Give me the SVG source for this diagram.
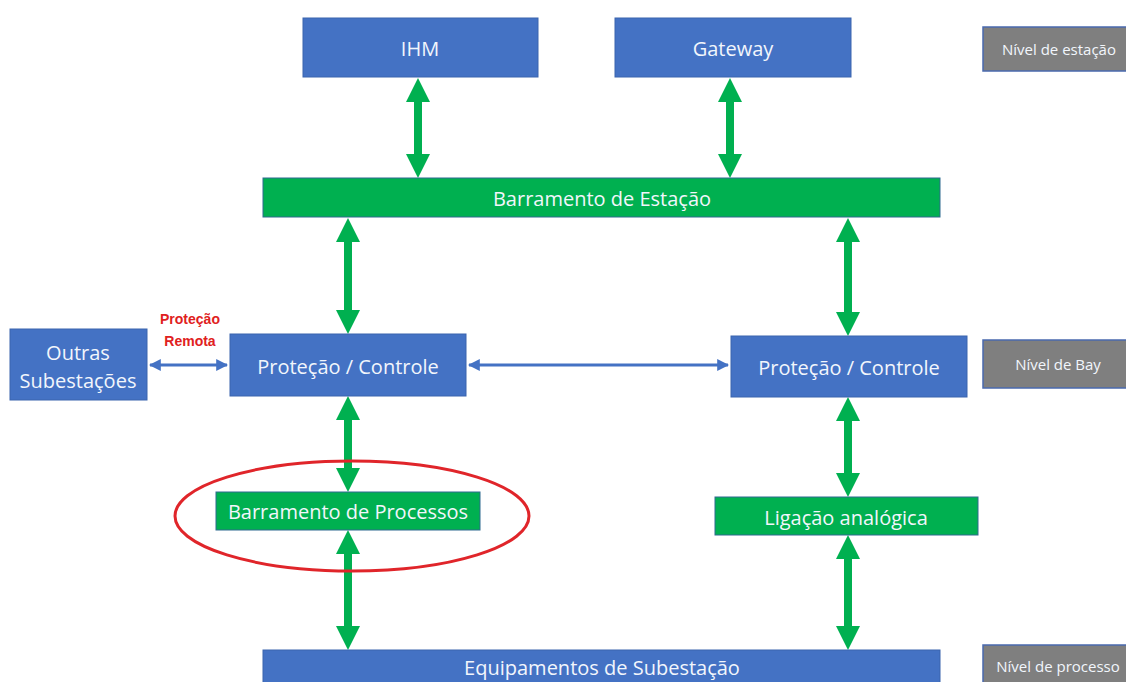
<svg xmlns="http://www.w3.org/2000/svg" width="1126" height="682" viewBox="0 0 1126 682">
<style>
.blue{fill:#4472C4;stroke:#3A64AE;stroke-width:1}
.green{fill:#00B050;stroke:#2F6B8F;stroke-width:1}
.gray{fill:#7F7F7F;stroke:#4A6AAE;stroke-width:1.5}
.t{font-family:"Open Sans","Liberation Sans",sans-serif;fill:#F2F6FC;text-anchor:middle;dominant-baseline:central}
.big{font-size:20px}
.mid{font-size:20px}
.sm{font-size:15px}
.arr{fill:#00B050}
.thin{stroke:#4472C4;stroke-width:3;fill:none}
.red{font-family:"Liberation Sans",sans-serif;font-weight:bold;font-size:14px;fill:#E02020;text-anchor:middle}
</style>
<defs>
<marker id="ah" viewBox="0 0 10 10" refX="9" refY="5" markerWidth="4" markerHeight="4" orient="auto-start-reverse">
<path d="M0,0 L10,5 L0,10 Z" fill="#4472C4"/>
</marker>
</defs>
<rect width="1126" height="682" fill="#FFFFFF"/>
<g id="connectors">
<polygon class="arr" points="418,78 430,102 422,102 422,154 430,154 418,178 406,154 414,154 414,102 406,102"/>
<polygon class="arr" points="730,78 742,102 734,102 734,154 742,154 730,178 718,154 726,154 726,102 718,102"/>
<polygon class="arr" points="348,218 360,242 352,242 352,310 360,310 348,334 336,310 344,310 344,242 336,242"/>
<polygon class="arr" points="848,218 860,242 852,242 852,312 860,312 848,336 836,312 844,312 844,242 836,242"/>
<polygon class="arr" points="348,396 360,420 352,420 352,468 360,468 348,492 336,468 344,468 344,420 336,420"/>
<polygon class="arr" points="348,530 360,554 352,554 352,626 360,626 348,650 336,626 344,626 344,554 336,554"/>
<polygon class="arr" points="848,397 860,421 852,421 852,473 860,473 848,497 836,473 844,473 844,421 836,421"/>
<polygon class="arr" points="848,535 860,559 852,559 852,626 860,626 848,650 836,626 844,626 844,559 836,559"/>
<line class="thin" x1="150" y1="365" x2="227" y2="365" marker-start="url(#ah)" marker-end="url(#ah)"/>
<line class="thin" x1="469" y1="365" x2="728" y2="365" marker-start="url(#ah)" marker-end="url(#ah)"/>
<text class="red" x="190" y="324">Proteção</text>
<text class="red" x="190" y="346">Remota</text>
<ellipse cx="352" cy="516" rx="177" ry="55" fill="none" stroke="#E0252A" stroke-width="3"/>
</g>
<g id="ihm"><rect class="blue" x="303" y="18" width="235" height="59"/><text class="t big" x="420" y="48">IHM</text></g>
<g id="gateway"><rect class="blue" x="615" y="18" width="236" height="59"/><text class="t big" x="733" y="48">Gateway</text></g>
<g id="nivel-estacao"><rect class="gray" x="983" y="27" width="150" height="44"/><text class="t sm" x="1059" y="49">Nível de estação</text></g>
<g id="barramento-estacao"><rect class="green" x="263" y="178" width="677" height="39"/><text class="t mid" x="602" y="198">Barramento de Estação</text></g>
<g id="outras"><rect class="blue" x="10" y="329" width="137" height="71"/><text class="t big" x="78" y="352">Outras</text><text class="t big" x="78" y="380">Subestações</text></g>
<g id="pc-esq"><rect class="blue" x="230" y="334" width="236" height="62"/><text class="t big" x="348" y="366">Proteção / Controle</text></g>
<g id="pc-dir"><rect class="blue" x="731" y="336" width="236" height="61"/><text class="t big" x="849" y="367">Proteção / Controle</text></g>
<g id="nivel-bay"><rect class="gray" x="983" y="340" width="150" height="48"/><text class="t sm" x="1058" y="364">Nível de Bay</text></g>
<g id="barramento-processos"><rect class="green" x="216" y="492" width="264" height="38"/><text class="t mid" x="348" y="511">Barramento de Processos</text></g>
<g id="ligacao"><rect class="green" x="715" y="497" width="263" height="38"/><text class="t mid" x="846" y="517">Ligação analógica</text></g>
<g id="equipamentos"><rect class="blue" x="263" y="650" width="677" height="36"/><text class="t mid" x="602" y="667">Equipamentos de Subestação</text></g>
<g id="nivel-processo"><rect class="gray" x="983" y="645" width="150" height="45"/><text class="t sm" x="1058" y="666">Nível de processo</text></g>
</svg>
